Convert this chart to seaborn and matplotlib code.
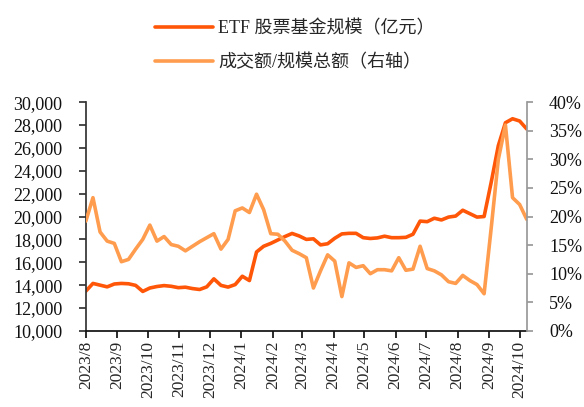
import matplotlib
matplotlib.use("Agg")
import matplotlib.pyplot as plt
import matplotlib.dates as mdates
from matplotlib.ticker import FuncFormatter, MultipleLocator
import numpy as np
import pandas as pd
import seaborn as sns

sns.set_theme(style="ticks")
plt.rcParams["font.family"] = ["Liberation Serif", "Noto Sans CJK SC", "DejaVu Sans"]

# weekly observations, 2023-08-01 .. 2024-10-08
dates = pd.date_range("2023-08-01", periods=63, freq="7D")

etf_scale = [
    13480, 14150, 14000, 13850, 14100, 14150, 14120, 13980, 13450, 13750,
    13880, 13960, 13900, 13780, 13820, 13700, 13620, 13850, 14550, 13980,
    13830, 14050, 14780, 14400, 16900, 17400, 17650, 17950, 18250, 18520,
    18300, 18000, 18050, 17520, 17620, 18100, 18480, 18530, 18530, 18150,
    18080, 18130, 18280, 18150, 18150, 18180, 18450, 19600, 19550, 19850,
    19700, 19950, 20040, 20550, 20250, 19950, 20000, 23000, 26200, 28200,
    28550, 28350, 27650,
]

turnover_ratio = [
    19.2, 23.3, 17.3, 15.7, 15.3, 12.1, 12.5, 14.3, 16.0, 18.5,
    15.7, 16.5, 15.1, 14.8, 14.0, 14.8, 15.6, 16.3, 17.0, 14.3,
    16.0, 21.0, 21.5, 20.7, 23.9, 21.2, 17.0, 16.9, 15.7, 14.1,
    13.5, 12.8, 7.5, 10.5, 13.3, 12.2, 6.0, 11.9, 11.1, 11.4,
    10.0, 10.7, 10.7, 10.5, 12.8, 10.6, 10.8, 14.8, 10.9, 10.5,
    9.8, 8.6, 8.3, 9.7, 8.8, 8.1, 6.5, 18.0, 30.0, 36.0,
    23.3, 22.1, 19.5,
]

label_scale = "ETF 股票基金规模（亿元）"
label_ratio = "成交额/规模总额（右轴）"

df = pd.DataFrame({"date": dates, "scale": etf_scale, "ratio": turnover_ratio})

dark = "#FF5608"
light = "#FF9C4E"

fig = plt.figure(figsize=(5.84, 4.07), dpi=100)
ax = fig.add_axes([0.147, 0.187, 0.755, 0.562])
ax2 = ax.twinx()

sns.lineplot(data=df, x="date", y="scale", ax=ax, color=dark, linewidth=2.6, label=label_scale, legend=False)
sns.lineplot(data=df, x="date", y="ratio", ax=ax2, color=light, linewidth=2.6, label=label_ratio, legend=False)

ax.set_xlim(dates[0], dates[-1])
ax.set_ylim(10000, 30000)
ax.yaxis.set_major_locator(MultipleLocator(2000))
ax.yaxis.set_major_formatter(FuncFormatter(lambda v, p: f"{int(v):,}"))
ax2.set_ylim(0, 40)
ax2.yaxis.set_major_locator(MultipleLocator(5))
ax2.yaxis.set_major_formatter(FuncFormatter(lambda v, p: f"{v:.0f}%"))

ax.xaxis.set_major_locator(mdates.MonthLocator())
ax.xaxis.set_major_formatter(FuncFormatter(lambda v, p: f"{mdates.num2date(v).year}/{mdates.num2date(v).month}"))
for lbl in ax.get_xticklabels():
    lbl.set_rotation(90)

ax.set_xlabel("")
ax.set_ylabel("")
ax2.set_ylabel("")
ax.grid(False)
ax2.grid(False)

for a in (ax, ax2):
    a.spines["top"].set_visible(False)
ax.spines["right"].set_visible(False)
ax2.spines["left"].set_visible(False)
ax2.spines["bottom"].set_visible(False)
ax.spines["left"].set_color("#333333")
ax.spines["bottom"].set_color("#111111")
ax2.spines["right"].set_color("#999999")
ax.tick_params(axis="y", labelsize=13, length=5, color="#333333", pad=12, labelcolor="#111111")
ax.tick_params(axis="x", labelsize=12.5, length=5, color="#111111", pad=2)
ax2.tick_params(axis="y", labelsize=13, length=4, color="#999999", pad=12, labelcolor="#111111")

handles = ax.get_lines()[:1] + ax2.get_lines()[:1]
fig.legend(handles, [label_scale, label_ratio], loc="upper center", bbox_to_anchor=(0.505, 0.99),
           frameon=False, ncol=1, fontsize=13, handlelength=3.2, labelspacing=0.9,
           handletextpad=0.3)

fig.savefig("out.png", dpi=100)
